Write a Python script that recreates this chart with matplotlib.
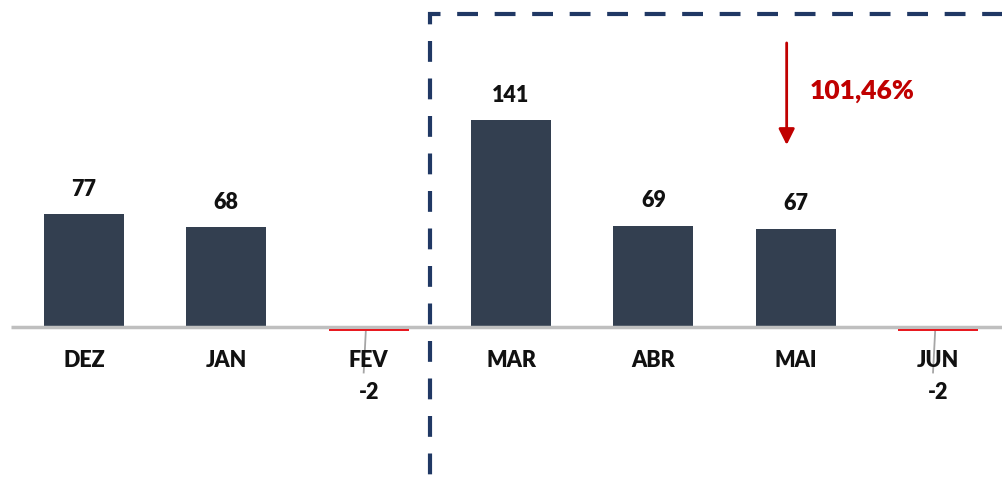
import matplotlib
matplotlib.use("Agg")
import matplotlib.pyplot as plt
from matplotlib.patches import Rectangle

months = ['DEZ', 'JAN', 'FEV', 'MAR', 'ABR', 'MAI', 'JUN']
values = [77, 68, -2, 141, 69, 67, -2]
variacao = '101,46%'

plt.rcParams['font.family'] = ['Lato', 'DejaVu Sans']

fig = plt.figure(figsize=(10.02, 4.83), dpi=100)
ax = fig.add_axes([0, 0, 1, 1])

px = 854 / 6  # pixels per category
ax.set_xlim(-84 / px, (1002 - 84) / px)
ppu = 207 / 141  # pixels per unit
ax.set_ylim(-(483 - 327) / ppu, 327 / ppu)
ax.axis('off')

x = list(range(len(months)))
pos = [v if v >= 0 else 0 for v in values]
ax.bar(x, pos, width=80 / px, color='#333F50', zorder=2)
ax.hlines(0, -0.51, 7, color='#BFBFBF', lw=2.5, zorder=3)
# negative values: thin red line right under the axis line
for i, v in enumerate(values):
    if v < 0:
        ax.hlines(v * 0.9, i - 40 / px, i + 40 / px, color='#E8141B', lw=1.4, zorder=4)

for i, (m, v) in enumerate(zip(months, values)):
    ax.text(i, -22.5, m, ha='center', va='center', fontsize=15.5, fontweight='heavy', color='#111111')
    if v >= 0:
        ax.text(i, v + 17, str(v), ha='center', va='center', fontsize=15.5, fontweight='heavy', color='#111111')
    else:
        ax.plot([i - 0.02, i - 0.035], [-2.8, -31], color='#A6A6A6', lw=1.3, zorder=1)
        ax.text(i, -44.5, str(v), ha='center', va='center', fontsize=15.5, fontweight='heavy', color='#111111')

# dashed box around the second period
box = Rectangle((2.43, -130), 5, 130 + 313 / ppu, fill=False, ec='#203864', lw=3,
                ls=(0, (5, 4)), zorder=4, clip_on=False)
ax.add_patch(box)

ax.annotate('', xy=(5 - 9 / px, 124), xytext=(5 - 9 / px, 193.5),
            arrowprops=dict(arrowstyle='-|>', color='#C00000', lw=2, mutation_scale=24,
                            shrinkA=0, shrinkB=0))
ax.text(5 + 14 / px, 161, variacao, ha='left', va='center', fontsize=19, fontweight='heavy', color='#C00000')

fig.savefig('out.png', dpi=100)
